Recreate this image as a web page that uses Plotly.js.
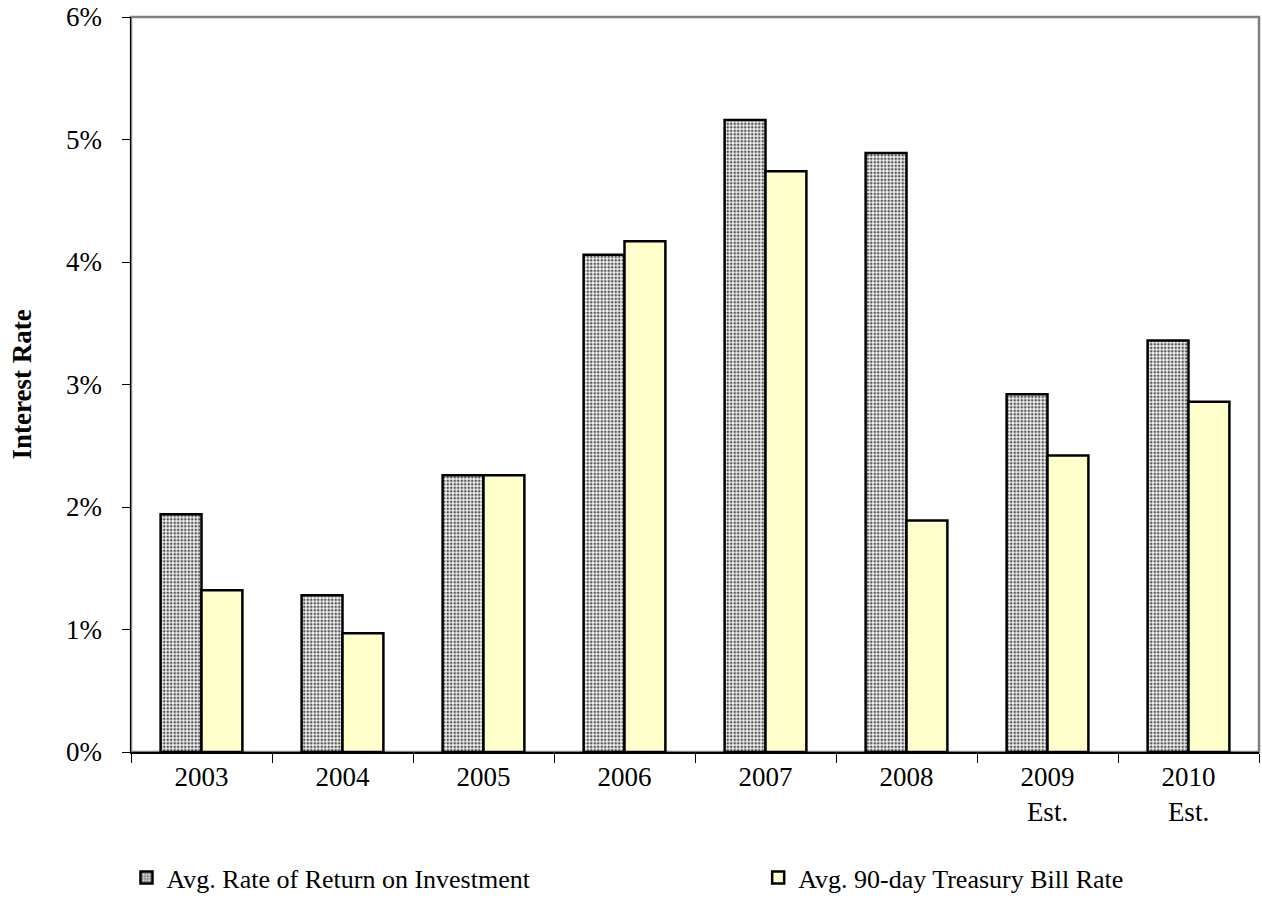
<!DOCTYPE html>
<html>
<head>
<meta charset="utf-8">
<script src="https://cdn.plot.ly/plotly-3.0.1.min.js"></script>
<style>html,body{margin:0;padding:0;background:#fff;}#chart{width:1262px;height:915px;}</style>
</head>
<body>
<div id="chart"></div>
<script>
const categories = ["2003", "2004", "2005", "2006", "2007", "2008", "2009<br>Est.", "2010<br>Est."];
const returnOnInvestment = [1.94, 1.28, 2.26, 4.06, 5.16, 4.89, 2.92, 3.36];
const treasuryBillRate = [1.32, 0.97, 2.26, 4.17, 4.74, 1.89, 2.42, 2.86];
const seriesNames = ["Avg. Rate of Return on Investment", "Avg. 90-day Treasury Bill Rate"];
const yTickVals = [0, 1, 2, 3, 4, 5, 6];
const yTickText = ["0%", "1%", "2%", "3%", "4%", "5%", "6%"];

const fam = "Liberation Serif, Times New Roman, serif";
const font = {family: fam, size: 27, color: "#000"};
const legendFont = {family: fam, size: 26, color: "#000"};

const traces = [
  {
    type: "bar", name: seriesNames[0], x: categories, y: returnOnInvestment, legend: "legend",
    marker: {color: "#ffffff", line: {color: "#000", width: 2.5},
      pattern: {shape: ".", fgcolor: "#555", bgcolor: "#f4f4f4", size: 3.5, solidity: 0.45}}
  },
  {
    type: "bar", name: seriesNames[1], x: categories, y: treasuryBillRate, legend: "legend2",
    marker: {color: "#FFFFCC", line: {color: "#000", width: 2.5}}
  }
];

const layout = {
  width: 1262, height: 915,
  margin: {l: 131, r: 3, t: 17, b: 163, autoexpand: false},
  paper_bgcolor: "#fff", plot_bgcolor: "#fff",
  font: font,
  barmode: "group", bargap: 0.42, bargroupgap: 0,
  showlegend: true,
  legend: {orientation: "h", x: -0.004, xanchor: "left", y: -0.171, yanchor: "middle",
    font: legendFont, itemwidth: 30, bgcolor: "rgba(0,0,0,0)"},
  legend2: {orientation: "h", x: 0.556, xanchor: "left", y: -0.171, yanchor: "middle",
    font: legendFont, itemwidth: 30, bgcolor: "rgba(0,0,0,0)"},
  xaxis: {type: "category", tickson: "boundaries", ticks: "outside", ticklen: 9, tickcolor: "#000",
    tickwidth: 1, showline: true, linecolor: "#000", linewidth: 1.5, showgrid: false,
    tickfont: font, range: [-0.5, 7.5], zeroline: false},
  xaxis2: {overlaying: "x", type: "linear", range: [-0.5, 7.5], tickvals: [-0.5,0.5,1.5,2.5,3.5,4.5,5.5,6.5,7.5],
    ticks: "inside", ticklen: 8, tickcolor: "#000", showticklabels: false, showgrid: false, zeroline: false,
    showline: false, anchor: "y", side: "bottom"},
  yaxis: {range: [0, 6], tickvals: yTickVals, ticktext: yTickText, ticks: "outside", ticklen: 8,
    tickcolor: "#000", showline: true, linecolor: "#000", linewidth: 1.5, showgrid: false, zeroline: false,
    tickfont: font, ticklabelstandoff: 14,
    title: {text: "<b>Interest Rate</b>", font: {family: fam, size: 27, color: "#000"}, standoff: 26}},
  yaxis2: {overlaying: "y", range: [0, 6], tickvals: yTickVals, ticks: "inside", ticklen: 10, tickcolor: "#000",
    showticklabels: false, showgrid: false, zeroline: false, showline: false, anchor: "x", side: "left"},
  shapes: [
    {type: "rect", xref: "paper", yref: "paper", x0: 0, x1: 1, y0: 0, y1: 1,
      line: {color: "#808080", width: 2.5}, layer: "below"}
  ]
};

Plotly.newPlot("chart", traces, layout, {staticPlot: true, displayModeBar: false});
</script>
</body>
</html>
